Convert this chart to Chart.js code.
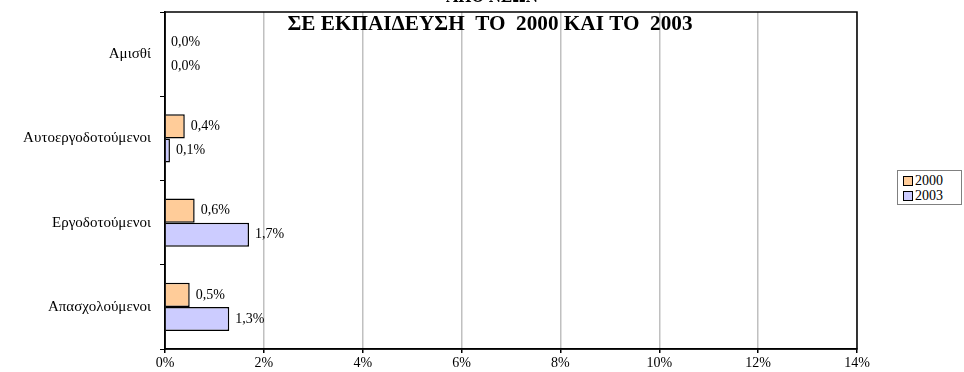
<!DOCTYPE html>
<html>
<head>
<meta charset="utf-8">
<script src="https://cdn.jsdelivr.net/npm/chart.js@4.4.1/dist/chart.umd.min.js"></script>
<style>
    html, body { margin: 0; padding: 0; background: #fff; }
    #wrap { position: relative; width: 964px; height: 372px; overflow: hidden; }
    #legend {
        position: absolute; left: 897px; top: 170px; width: 65px; height: 35px;
        box-sizing: border-box; border: 1px solid #808080; background: #fff;
        font: 14px 'Liberation Serif', serif; color: #000; padding: 2px 0 0 5px;
    }
    #legend div { height: 15px; line-height: 15px; white-space: nowrap; }
    #legend span {
        display: inline-block; width: 8px; height: 8px; border: 1.5px solid #000;
        margin-right: 2px; vertical-align: -1px;
    }
</style>
</head>
<body>
<div id="wrap">
    <canvas id="chart" width="964" height="372"></canvas>
    <div id="legend"></div>
</div>
<script>
// Data
const categories = ['Αμισθί', 'Αυτοεργοδοτούμενοι', 'Εργοδοτούμενοι', 'Απασχολούμενοι'];
const values2000 = [0.0, 0.4, 0.6, 0.5];
const values2003 = [0.0, 0.1, 1.7, 1.3];
const seriesNames = ['2000', '2003'];
const titleLines = ['ΑΠΟ ΝΕΩΝ', 'ΣΕ ΕΚΠΑΙΔΕΥΣΗ  ΤΟ  2000 ΚΑΙ ΤΟ  2003'];

const FONT = "'Liberation Serif', 'Times New Roman', serif";

// title drawn at the top, first line partly cut off like the original
const titlePlugin = {
    id: 'titleText',
    afterDraw(chart) {
        const ctx = chart.ctx;
        ctx.save();
        ctx.font = 'bold 22px ' + FONT;
        ctx.fillStyle = '#000';
        ctx.textAlign = 'center';
        ctx.textBaseline = 'alphabetic';
        ctx.fillText(titleLines[0], 492, 2, 92);
        ctx.fillText(titleLines[1], 490, 30, 405);
        ctx.restore();
    }
};

// black frame round the plot area
const framePlugin = {
    id: 'frame',
    beforeDatasetsDraw(chart) {
        const a = chart.chartArea;
        const ctx = chart.ctx;
        ctx.save();
        ctx.strokeStyle = '#000';
        ctx.lineWidth = 1.5;
        ctx.strokeRect(a.left, a.top, a.right - a.left, a.bottom - a.top);
        ctx.restore();
    }
};

// value labels to the right of every bar
const barLabels = {
    id: 'barLabels',
    afterDatasetsDraw(chart) {
        const ctx = chart.ctx;
        ctx.save();
        ctx.font = '14px ' + FONT;
        ctx.fillStyle = '#000';
        ctx.textBaseline = 'middle';
        chart.data.datasets.forEach((ds, i) => {
            chart.getDatasetMeta(i).data.forEach((bar, j) => {
                const txt = ds.data[j].toFixed(1).replace('.', ',') + '%';
                ctx.fillText(txt, bar.x + 6, bar.y);
            });
        });
        ctx.restore();
    }
};

const chart = new Chart(document.getElementById('chart'), {
    type: 'bar',
    data: {
        labels: categories,
        datasets: [{
            label: seriesNames[0],
            data: values2000,
            backgroundColor: '#FFCC99',
            borderColor: '#000',
            borderWidth: 1.5
        }, {
            label: seriesNames[1],
            data: values2003,
            backgroundColor: '#CCCCFF',
            borderColor: '#000',
            borderWidth: 1.5
        }]
    },
    options: {
        indexAxis: 'y',
        responsive: false,
        animation: false,
        layout: { padding: { top: 12, right: 107, left: 0, bottom: 0 } },
        datasets: { bar: { categoryPercentage: 0.57, barPercentage: 1.0 } },
        plugins: {
            legend: { display: false },
            title: { display: false },
            tooltip: { enabled: false }
        },
        scales: {
            x: {
                min: 0,
                max: 14,
                ticks: {
                    stepSize: 2,
                    color: '#000',
                    font: { family: FONT, size: 14 },
                    padding: 2,
                    callback: v => v + '%'
                },
                grid: { color: '#c0c0c0', lineWidth: 1.5, tickLength: 4, tickColor: '#000' },
                border: { color: '#000', width: 1.5 },
                afterFit(scale) { scale.height = 23; }
            },
            y: {
                ticks: {
                    color: '#000',
                    font: { family: FONT, size: 15 },
                    padding: 9
                },
                grid: { drawOnChartArea: false, tickLength: 5, tickColor: '#000', offset: true },
                border: { color: '#000', width: 1.5 },
                afterFit(scale) {
                    scale.width = 165;
                    // labels sit inside their bands, no extra room needed above/below
                    scale.paddingTop = 0;
                    scale.paddingBottom = 0;
                }
            }
        }
    },
    plugins: [titlePlugin, framePlugin, barLabels]
});

// legend box on the right
const legendEl = document.getElementById('legend');
chart.data.datasets.forEach(ds => {
    const row = document.createElement('div');
    const sw = document.createElement('span');
    sw.style.background = ds.backgroundColor;
    row.appendChild(sw);
    row.appendChild(document.createTextNode(ds.label));
    legendEl.appendChild(row);
});
</script>
</body>
</html>
